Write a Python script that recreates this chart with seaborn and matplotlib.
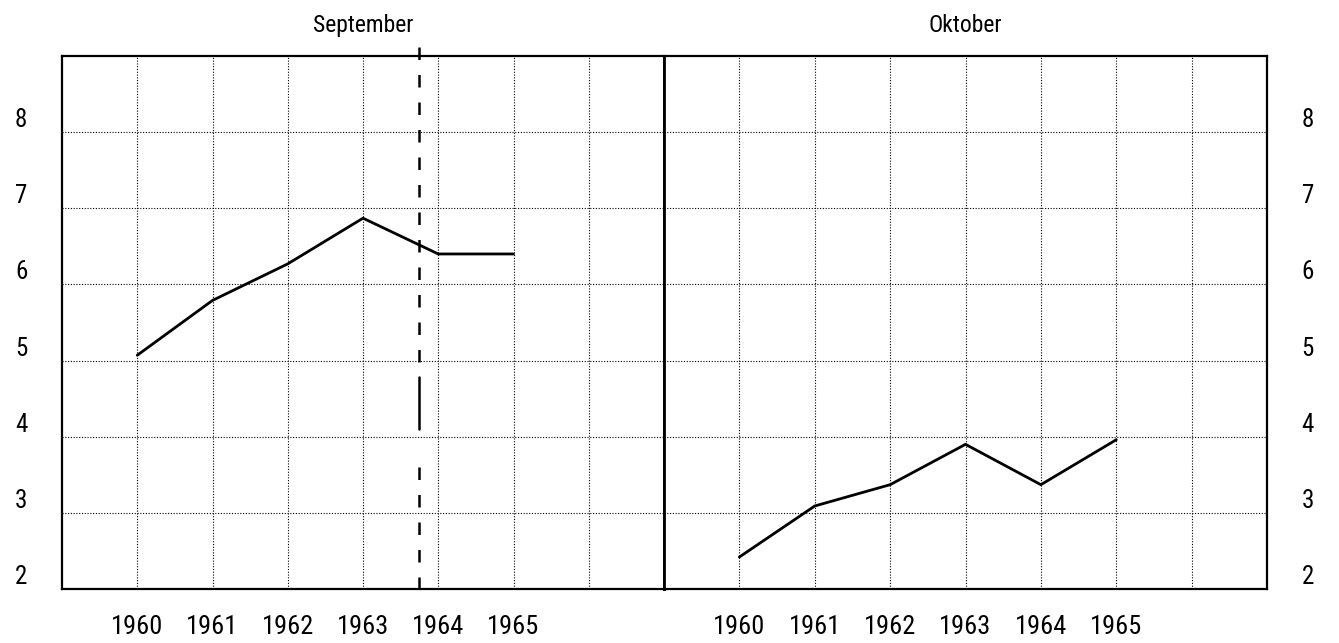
import matplotlib.pyplot as plt
import pandas as pd
import seaborn as sns
from matplotlib import font_manager

# values
years = [1960, 1961, 1962, 1963, 1964, 1965]
september = [5.07, 5.79, 6.27, 6.87, 6.40, 6.40]
oktober = [2.42, 3.09, 3.37, 3.90, 3.37, 3.96]
panel_titles = ["September", "Oktober"]
y_ticks = [2, 3, 4, 5, 6, 7, 8]
break_year = 1963.75  # dashed break line in the September panel

sns.set_style("white")
installed = {f.name for f in font_manager.fontManager.ttflist}
narrow = [n for n in ["Liberation Sans Narrow", "Roboto Condensed", "DejaVu Sans"] if n in installed]
plt.rcParams["font.family"] = narrow + ["DejaVu Sans"]
plt.rcParams["font.stretch"] = "condensed"
plt.rcParams["text.color"] = "black"
plt.rcParams["xtick.color"] = "black"
plt.rcParams["ytick.color"] = "black"

df = pd.DataFrame({"year": years * 2,
                   "value": september + oktober,
                   "month": ["September"] * 6 + ["Oktober"] * 6})

fig = plt.figure(figsize=(13.39, 6.43), dpi=100)
ax1 = fig.add_axes([62 / 1339, 1 - 589 / 643, 602 / 1339, 533 / 643])
ax2 = fig.add_axes([664 / 1339, 1 - 589 / 643, 603 / 1339, 533 / 643])

for ax, month in zip([ax1, ax2], panel_titles):
    # dotted grid
    for x in range(1960, 1967):
        ax.axvline(x, color="black", lw=0.8, ls=(0, (1, 1.5)), zorder=1)
    for y in range(3, 9):
        ax.axhline(y, color="black", lw=0.8, ls=(0, (1, 1.5)), zorder=1)

    sns.lineplot(data=df[df["month"] == month], x="year", y="value",
                 color="black", lw=2, ax=ax, zorder=3)

    ax.set_xlim(1959, 1967)
    ax.set_ylim(2, 9)
    ax.set_xticks(years)
    ax.set_xticklabels([str(y) for y in years], fontsize=19)
    ax.set_yticks(y_ticks)
    ax.set_yticklabels([str(v) for v in y_ticks], fontsize=18)
    ax.tick_params(axis="x", length=0, pad=19)
    ax.tick_params(axis="y", length=0, pad=25)
    ax.set_xlabel("")
    ax.set_ylabel("")
    ax.set_title(month, fontsize=17, pad=17)
    for side in ax.spines.values():
        side.set_color("black")
        side.set_linewidth(1.6)

ax2.yaxis.tick_right()
for ax in [ax1, ax2]:
    for tick in ax.yaxis.get_major_ticks():
        tick.label1.set_va("bottom")
        tick.label2.set_va("bottom")
ax2.spines["left"].set_linewidth(2)
ax1.spines["right"].set_linewidth(2)

# dashed break marker crossing the September panel
ax1.plot([break_year, break_year], [9.12, 4.82], color="black", lw=1.8,
         ls=(0, (5, 6)), clip_on=False, zorder=4)
ax1.plot([break_year, break_year], [4.78, 4.1], color="black", lw=1.8,
         clip_on=False, zorder=4)
ax1.plot([break_year, break_year], [3.6, 1.8], color="black", lw=1.8,
         ls=(0, (5, 6)), clip_on=False, zorder=4)

fig.savefig("out.png", dpi=100)
